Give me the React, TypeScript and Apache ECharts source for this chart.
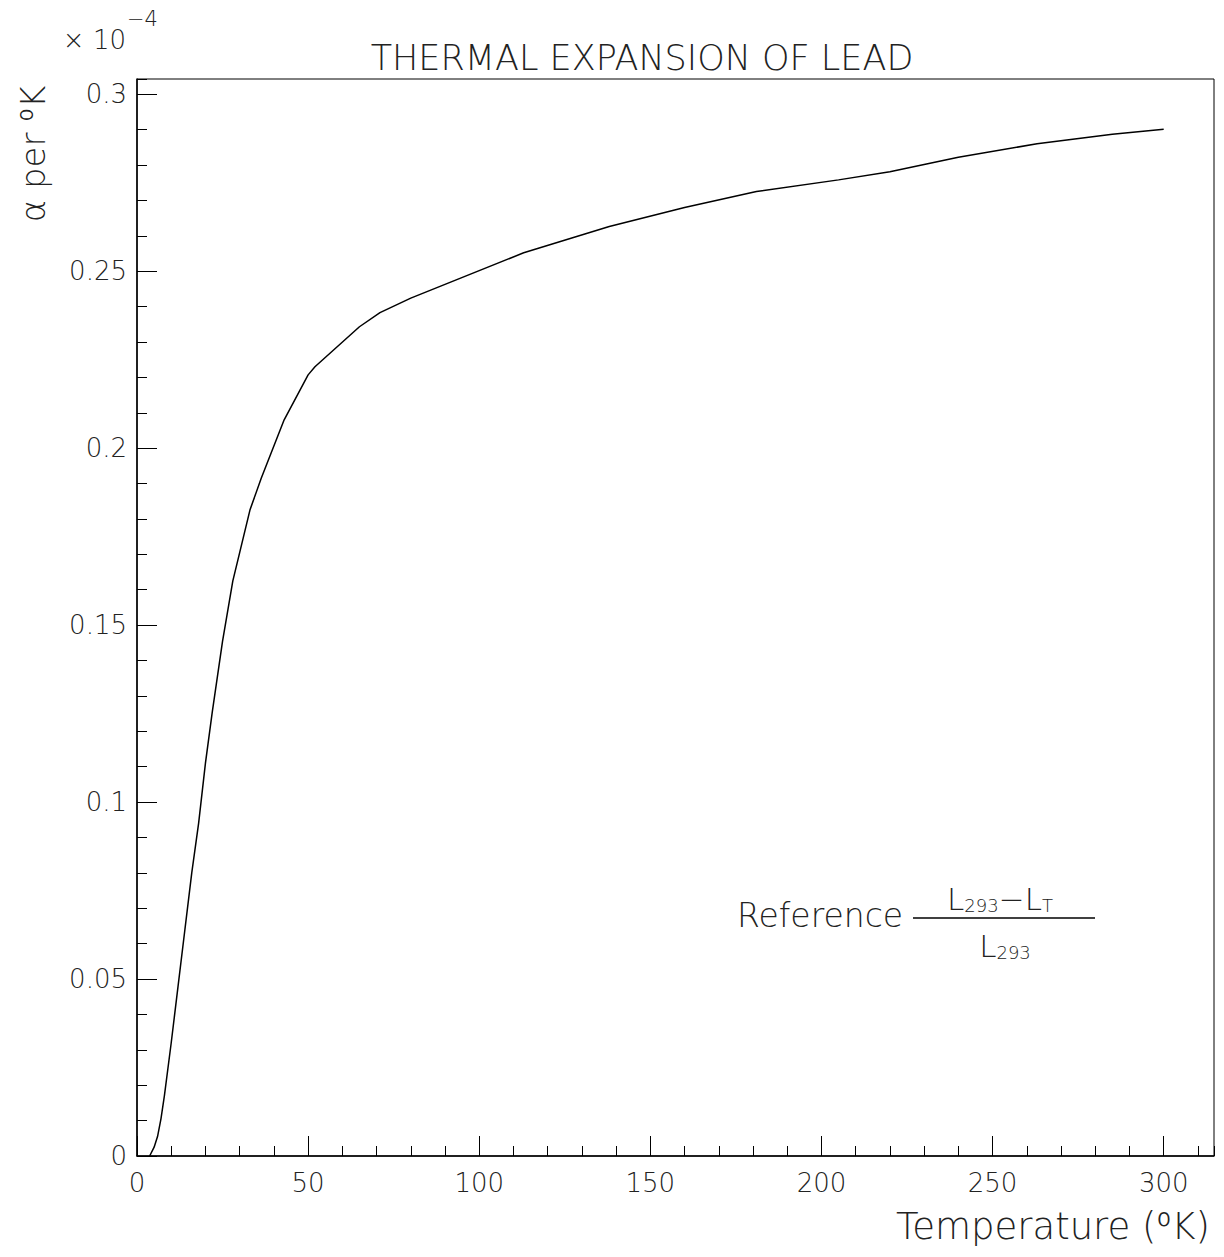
import React, { useEffect, useRef } from "react";
import * as echarts from "echarts";

const temperatures = [3.7, 5, 6, 7, 8, 10, 12, 14, 16, 18, 20, 22, 25, 28, 30, 33, 36.3, 43, 50, 52, 65, 71, 80, 113, 138, 160, 181, 205, 220, 240, 263, 285, 300];
const alphaValues = [0, 0.0025, 0.0055, 0.0105, 0.017, 0.032, 0.048, 0.064, 0.08, 0.094, 0.111, 0.1255, 0.1455, 0.1625, 0.1705, 0.1825, 0.1915, 0.208, 0.2207, 0.223, 0.2343, 0.2383, 0.2424, 0.2552, 0.2626, 0.268, 0.2725, 0.2758, 0.2781, 0.2822, 0.286, 0.2887, 0.2901];

const xMin = 0;
const xMax = 314.7;
const yMin = 0;
const yMax = 0.3043;

const titleText = "THERMAL EXPANSION OF LEAD";
const xName = "Temperature (\u2070K)";
const yName = "\u03b1 per \u2070K";

const FONT = "'DejaVu Sans', sans-serif";
const TXT = "#222";

export default function App() {
  const ref = useRef<HTMLDivElement>(null);
  useEffect(() => {
    if (!ref.current) return;
    const chart = echarts.init(ref.current, null, { renderer: "svg" });
    const data = temperatures.map((t, i) => [t, alphaValues[i]]);
    const labelStyle = { fontSize: 26, fontFamily: FONT, color: TXT, fontWeight: 300 };
    chart.setOption({
      animation: false,
      backgroundColor: "#fff",
      grid: {
        left: 137,
        top: 79,
        right: 10,
        bottom: 101,
        show: true,
        borderColor: "#000",
        borderWidth: 1,
        outerBoundsMode: "none",
        containLabel: false,
      },
      xAxis: [
        {
          type: "value",
          min: xMin,
          max: xMax,
          interval: 50,
          position: "bottom",
          axisLine: { show: true, lineStyle: { color: "#000", width: 1.5 } },
          axisTick: { show: true, inside: true, length: 20, lineStyle: { color: "#000", width: 1 } },
          axisLabel: { ...labelStyle, margin: 14, showMaxLabel: false, showMinLabel: true },
          splitLine: { show: false },
        },
        {
          type: "value",
          min: xMin,
          max: xMax,
          interval: 10,
          position: "bottom",
          axisLine: { show: false },
          axisTick: { show: true, inside: true, length: 10, lineStyle: { color: "#000", width: 1 } },
          axisLabel: { show: false },
          splitLine: { show: false },
        },
      ],
      yAxis: [
        {
          type: "value",
          min: yMin,
          max: yMax,
          interval: 0.05,
          position: "left",
          axisLine: { show: true, lineStyle: { color: "#000", width: 1.5 } },
          axisTick: { show: true, inside: true, length: 20, lineStyle: { color: "#000", width: 1 } },
          axisLabel: { ...labelStyle, margin: 10, showMaxLabel: false, showMinLabel: true },
          splitLine: { show: false },
        },
        {
          type: "value",
          min: yMin,
          max: yMax,
          interval: 0.01,
          position: "left",
          axisLine: { show: false },
          axisTick: { show: true, inside: true, length: 10, lineStyle: { color: "#000", width: 1 } },
          axisLabel: { show: false },
          splitLine: { show: false },
        },
      ],
      series: [
        {
          type: "line",
          data,
          xAxisIndex: 0,
          yAxisIndex: 0,
          showSymbol: false,
          symbol: "none",
          smooth: false,
          lineStyle: { color: "#000", width: 1.5 },
        },
      ],
      graphic: [
        {
          type: "text",
          style: {
            x: 642,
            y: 58,
            text: titleText,
            align: "center",
            verticalAlign: "middle",
            fontSize: 35,
            fontFamily: FONT,
            fontWeight: 300,
            fill: TXT,
          },
        },
        {
          type: "text",
          style: {
            x: 126,
            y: 40,
            text: "\u00d7 10",
            align: "right",
            verticalAlign: "middle",
            fontSize: 26,
            fontFamily: FONT,
            fontWeight: 300,
            fill: TXT,
          },
        },
        {
          type: "text",
          style: {
            x: 127,
            y: 19,
            text: "\u22124",
            align: "left",
            verticalAlign: "middle",
            fontSize: 21,
            fontFamily: FONT,
            fontWeight: 300,
            fill: TXT,
          },
        },
        {
          type: "text",
          x: 33,
          y: 154,
          rotation: Math.PI / 2,
          style: {
            x: 0,
            y: 0,
            text: yName,
            align: "center",
            verticalAlign: "middle",
            fontSize: 34,
            fontFamily: FONT,
            fontWeight: 300,
            fill: TXT,
          },
        },
        {
          type: "text",
          style: {
            x: 1210,
            y: 1226,
            text: xName,
            align: "right",
            verticalAlign: "middle",
            fontSize: 37,
            fontFamily: FONT,
            fontWeight: 300,
            fill: TXT,
          },
        },
        {
          type: "text",
          style: {
            x: 737,
            y: 915,
            text: "Reference",
            align: "left",
            verticalAlign: "middle",
            fontSize: 33,
            fontFamily: FONT,
            fontWeight: 300,
            fill: TXT,
          },
        },
        {
          type: "line",
          shape: { x1: 913, y1: 918, x2: 1095, y2: 918 },
          style: { stroke: "#000", lineWidth: 1.5 },
        },
        {
          type: "text",
          style: {
            x: 1000,
            y: 914,
            text: "{L|L}{s|293}{L|\u2212L}{s|T}",
            align: "center",
            verticalAlign: "bottom",
            fill: TXT,
            rich: {
              L: { fontSize: 31, fontFamily: FONT, fontWeight: 300, fill: TXT, verticalAlign: "bottom" },
              s: { fontSize: 18, fontFamily: FONT, fontWeight: 300, fill: TXT, verticalAlign: "bottom" },
            },
          },
        },
        {
          type: "text",
          style: {
            x: 1005,
            y: 930,
            text: "{L|L}{s|293}",
            align: "center",
            verticalAlign: "top",
            fill: TXT,
            rich: {
              L: { fontSize: 31, fontFamily: FONT, fontWeight: 300, fill: TXT, verticalAlign: "bottom" },
              s: { fontSize: 18, fontFamily: FONT, fontWeight: 300, fill: TXT, verticalAlign: "bottom" },
            },
          },
        },
      ],
    });
    return () => chart.dispose();
  }, []);
  return (
    <div
      ref={ref}
      style={{ position: "absolute", left: 0, top: 0, width: 1224, height: 1257 }}
    />
  );
}
